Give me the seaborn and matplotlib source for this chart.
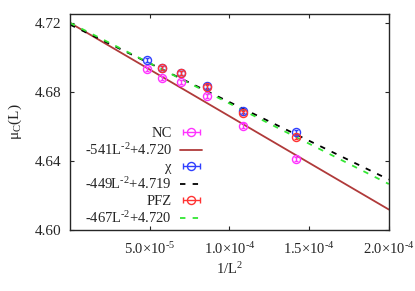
import matplotlib
matplotlib.use("Agg")
import matplotlib.pyplot as plt
import numpy as np
import pandas as pd
import seaborn as sns
from matplotlib.legend_handler import HandlerErrorbar
from matplotlib.container import ErrorbarContainer

# lattice sizes and critical chemical potential estimates
L_vals = np.array([84, 96, 108, 120, 132, 144])
mu_nc = [4.6412, 4.6605, 4.6775, 4.6856, 4.6881, 4.6932]
mu_chi = [4.6566, 4.6690, 4.6834, 4.6910, 4.6940, 4.6986]
L_pfz = np.array([84, 96, 108, 120, 132])
mu_pfz = [4.6541, 4.6677, 4.6831, 4.6908, 4.6937]
err = 0.0012

# fits  mu = a / L^2 + b
fit_slopes = [-541, -449, -467]
fit_offsets = [4.720, 4.719, 4.720]
fit_range = [0.0, 2.0e-4]

MAGENTA = "#ff33ff"
BLUE = "#2f3fff"
RED = "#ff3333"
BROWN = "#b03a3a"
GREEN = "#33e633"

sns.set_style("ticks")
plt.rcParams["font.family"] = ["Liberation Serif", "DejaVu Serif"]
plt.rcParams["mathtext.fontset"] = "custom"
plt.rcParams["mathtext.rm"] = "Liberation Serif"
plt.rcParams["mathtext.it"] = "Liberation Serif:italic"
plt.rcParams["mathtext.default"] = "rm"
plt.rcParams["xtick.direction"] = "in"
plt.rcParams["ytick.direction"] = "in"

fig = plt.figure(figsize=(4.15, 2.91), dpi=100)
ax = fig.add_axes([0.169, 0.210, 0.768, 0.742])

def points(L, mu, color):
    ax.errorbar(1.0 / L**2, mu, yerr=err, fmt="o", mfc="none", mec=color,
                ecolor=color, ms=5.8, mew=1.0, elinewidth=1.0, capsize=1.5, zorder=3)

def fit_line(i, color, dashes):
    xs = np.array(fit_range)
    df = pd.DataFrame({"x": xs, "y": fit_slopes[i] * xs + fit_offsets[i]})
    sns.lineplot(data=df, x="x", y="y", ax=ax, color=color, lw=1.3,
                 dashes=False, legend=False, zorder=2)
    if dashes:
        ax.lines[-1].set_dashes(dashes)

points(L_vals, mu_nc, MAGENTA)
fit_line(0, BROWN, None)
points(L_vals, mu_chi, BLUE)
fit_line(1, "black", (3, 4))
points(L_pfz, mu_pfz, RED)
fit_line(2, GREEN, (3, 4))

ax.set_xlim(0, 2.0e-4)
ax.set_ylim(4.60, 4.7252)
ax.set_xticks([5e-5, 1e-4, 1.5e-4, 2e-4])
ax.set_xticklabels([r"5.0×10$^{\text{-}5}$", r"1.0×10$^{\text{-}4}$",
                    r"1.5×10$^{\text{-}4}$", r"2.0×10$^{\text{-}4}$"])
ax.set_yticks([4.60, 4.64, 4.68, 4.72])
ax.set_yticklabels(["4.60", "4.64", "4.68", "4.72"])
ax.tick_params(top=True, right=True, length=3, width=0.8)
ax.tick_params(axis="x", pad=8, labelsize=10.5)
ax.tick_params(axis="y", pad=6, labelsize=11)
for s in ax.spines.values():
    s.set_linewidth(1.0)
    s.set_visible(True)
ax.set_xlabel(r"1/L$^2$", fontsize=10.5, labelpad=3)
ax.set_ylabel(r"μ$_\mathrm{C}$(L)", fontsize=11, labelpad=8)

# legend proxies in gnuplot style (horizontal bars)
def proxy(color):
    return ax.errorbar([np.nan], [np.nan], xerr=[1], fmt="o", mfc="none", mec=color,
                       ecolor=color, ms=5.8, mew=1.0, elinewidth=1.0, capsize=2.5)

handles = [proxy(MAGENTA), plt.Line2D([], [], color=BROWN, lw=1.3),
           proxy(BLUE), plt.Line2D([], [], color="black", lw=1.3, dashes=(3, 4)),
           proxy(RED), plt.Line2D([], [], color=GREEN, lw=1.3, dashes=(3, 4))]
labels = ["NC", r"-541L$^{\text{-}2}$+4.720", "χ", r"-449L$^{\text{-}2}$+4.719",
          "PFZ", r"-467L$^{\text{-}2}$+4.720"]
ax.legend(handles, labels, loc="lower right", bbox_to_anchor=(0.447, -0.03),
          markerfirst=False, frameon=False, fontsize=10.5, handlelength=1.55,
          handletextpad=0.55, labelspacing=0.17, borderpad=0.2,
          handler_map={ErrorbarContainer: HandlerErrorbar(xerr_size=0.58)})

fig.savefig("out.png", dpi=100)
